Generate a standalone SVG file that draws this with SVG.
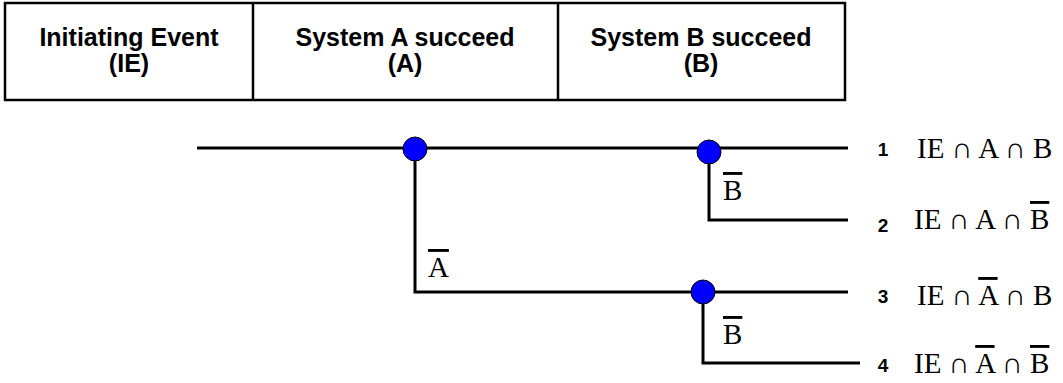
<svg xmlns="http://www.w3.org/2000/svg" width="1063" height="383" viewBox="0 0 1063 383">
<style>
.hdr{font-family:"Liberation Sans",Arial,sans-serif;font-weight:bold;font-size:25px;text-anchor:middle;fill:#000}
.num{font-family:"Liberation Sans",Arial,sans-serif;font-weight:bold;font-size:19px;text-anchor:middle;fill:#000}
.math{font-family:"Liberation Serif","Times New Roman",serif;font-size:29px;fill:#000}
.ov{text-decoration:overline}
.ln{stroke:#000;stroke-width:3;fill:none}
.node{fill:#0000FF;stroke:#000;stroke-width:1}
</style>
<g id="table">
<rect x="5" y="3" width="840" height="97" fill="#fff" stroke="#000" stroke-width="2.5"/>
<line x1="253" y1="3" x2="253" y2="100" stroke="#000" stroke-width="2.5"/>
<line x1="558" y1="3" x2="558" y2="100" stroke="#000" stroke-width="2.5"/>
<text class="hdr" x="129" y="46">Initiating Event</text>
<text class="hdr" x="129" y="72">(IE)</text>
<text class="hdr" x="405" y="46">System A succeed</text>
<text class="hdr" x="405" y="72">(A)</text>
<text class="hdr" x="701" y="46">System B succeed</text>
<text class="hdr" x="701" y="72">(B)</text>
</g>
<g id="connectors">
<polyline class="ln" points="197,148 848,148"/>
<polyline class="ln" points="415,148 415,292 848,292"/>
<polyline class="ln" points="709,152 709,220 848,220"/>
<polyline class="ln" points="703,292 703,363 860,363"/>
</g>
<g id="nodeA"><circle class="node" cx="415" cy="149" r="12"/></g>
<g id="nodeB1"><circle class="node" cx="709" cy="152" r="12"/></g>
<g id="nodeB2"><circle class="node" cx="703" cy="292" r="12"/></g>
<g id="branch-labels">
<text class="math" x="428" y="277"><tspan class="ov">A</tspan></text>
<text class="math" x="723" y="200"><tspan class="ov">B</tspan></text>
<text class="math" x="723" y="344"><tspan class="ov">B</tspan></text>
</g>
<g id="outcome1"><text class="num" x="883" y="156">1</text><text class="math" x="917" y="158">IE ∩ A ∩ B</text></g>
<g id="outcome2"><text class="num" x="883" y="232">2</text><text class="math" x="914" y="229">IE ∩ A ∩ <tspan class="ov">B</tspan></text></g>
<g id="outcome3"><text class="num" x="883" y="303">3</text><text class="math" x="917" y="305">IE ∩ <tspan class="ov">A</tspan> ∩ B</text></g>
<g id="outcome4"><text class="num" x="883" y="372">4</text><text class="math" x="914" y="373">IE ∩ <tspan class="ov">A</tspan> ∩ <tspan class="ov">B</tspan></text></g>
</svg>
